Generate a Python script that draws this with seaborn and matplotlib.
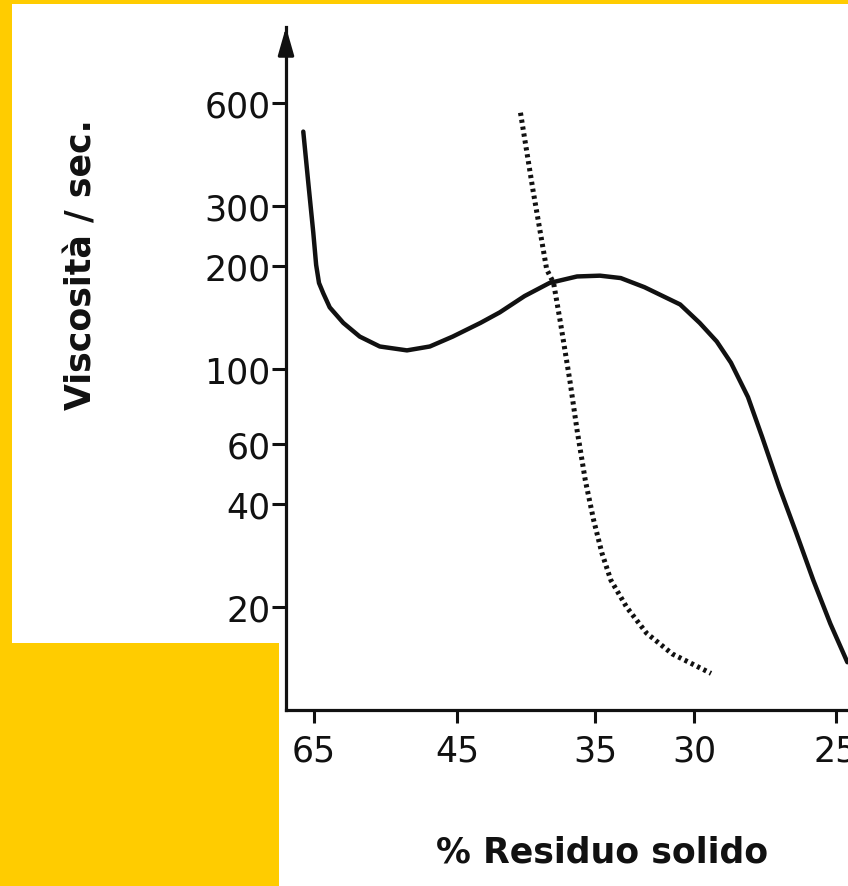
import numpy as np
import pandas as pd
import matplotlib
matplotlib.use("Agg")
import matplotlib.pyplot as plt
from matplotlib.patches import Rectangle
from matplotlib.ticker import NullLocator
import seaborn as sns

# ---------------- data ----------------
residue_ticks = [65, 45, 35, 30, 25]
visc_ticks = [20, 40, 60, 100, 200, 300, 600]

solid_residue = [66.5, 65.8, 65.1, 64.7, 64.3, 63.7, 62.8, 60.9, 58.6, 55.8, 52.0,
                 48.8, 45.6, 43.3, 41.9, 40.1, 38.3, 36.3, 34.75, 33.7, 32.5, 30.7,
                 29.8, 29.2, 28.7, 28.1, 27.6, 27.0, 26.4, 25.8, 25.2, 24.6]
solid_visc = [494, 350, 250, 201, 178, 166, 151, 136, 124, 116, 113,
              116, 124, 136, 146, 163, 178, 186, 187, 184, 173, 154,
              136, 120, 104, 82.5, 63, 45, 33, 24, 17.9, 13.8]

dotted_residue = [40.4, 39.5, 38.5, 38.0, 37.5, 36.8, 36.3, 35.7, 35.1, 34.65,
                  34.2, 33.4, 32.4, 31.1, 29.4]
dotted_visc = [561, 334, 195, 178, 136, 91, 66, 47, 36, 28.8,
               24.0, 20.0, 16.8, 14.6, 12.8]

# ---------------- style ----------------
sns.set_theme(style="ticks")
plt.rcParams["font.family"] = ["DejaVu Sans"]

YELLOW = "#FFCC00"
INK = "#111111"

W, H = 848, 887
fig = plt.figure(figsize=(W / 100, H / 100), dpi=100, facecolor=YELLOW)
# white sheet + yellow block bottom-left
fig.patches.append(Rectangle((12 / W, 0), 1, 1 - 5 / H, transform=fig.transFigure,
                             facecolor="white", edgecolor="none", zorder=-10))
fig.patches.append(Rectangle((0, 0), 279 / W, (H - 644) / H, transform=fig.transFigure,
                             facecolor=YELLOW, edgecolor="none", zorder=-9))

ax = fig.add_axes([286 / W, (H - 711) / H, (W - 286) / W, (711 - 28) / H])
ax.set_facecolor("none")

df_solid = pd.DataFrame({"residuo": solid_residue, "viscosita": solid_visc})
df_dot = pd.DataFrame({"residuo": dotted_residue, "viscosita": dotted_visc})

sns.lineplot(data=df_solid, x="residuo", y="viscosita", ax=ax, color=INK,
             linewidth=3.2, sort=False, estimator=None)
sns.lineplot(data=df_dot, x="residuo", y="viscosita", ax=ax, color=INK,
             linewidth=3.6, linestyle=(0, (0.65, 0.75)), sort=False, estimator=None)

# non-uniform x axis (piecewise linear, as drawn in the original)
anchor_v = np.array([20.0, 25, 30, 35, 45, 65, 75.0])
anchor_t = -np.array([978.0, 836, 694, 595, 457, 314, 242.5])  # increasing


def fwd(x):
    return np.interp(np.asarray(x, float), anchor_v, anchor_t)


def inv(t):
    return np.interp(np.asarray(t, float), anchor_t, anchor_v)


ax.set_xscale("function", functions=(fwd, inv))
ax.set_yscale("log")
ax.set_xlim(float(inv(-286)), float(inv(-848)))
ax.set_ylim(10, 1000)

ax.set_xticks(residue_ticks, labels=[str(v) for v in residue_ticks])
ax.set_yticks(visc_ticks, labels=[str(v) for v in visc_ticks])
ax.xaxis.set_minor_locator(NullLocator())
ax.yaxis.set_minor_locator(NullLocator())

for s in ("top", "right"):
    ax.spines[s].set_visible(False)
for s in ("left", "bottom"):
    ax.spines[s].set_linewidth(2.3)
    ax.spines[s].set_color(INK)

ax.tick_params(axis="y", which="major", direction="out", length=10, width=2.2,
               color=INK, labelsize=25, pad=1, labelcolor=INK)
ax.tick_params(axis="x", which="major", direction="out", length=9, width=2.2,
               color=INK, labelsize=25, pad=8, labelcolor=INK)

# arrow head on the y axis
ax.annotate("", xy=(0, 1.0), xytext=(0, 0.96), xycoords="axes fraction",
            arrowprops=dict(arrowstyle="-|>,head_length=1.4,head_width=0.4",
                            lw=2.3, color=INK, shrinkA=0, shrinkB=0,
                            mutation_scale=12),
            annotation_clip=False)

ax.set_xlabel("% Residuo solido", fontsize=25, fontweight="bold", color=INK)
ax.xaxis.set_label_coords((602 - 286) / (W - 286), (711 - 853) / (711 - 28))
ax.xaxis.label.set_va("center")
ax.xaxis.label.set_ha("center")

ax.set_ylabel("Viscosità / sec.", fontsize=25, fontweight="bold", color=INK)
ax.yaxis.set_label_coords((82 - 286) / (W - 286), (711 - 265) / (711 - 28))
ax.yaxis.label.set_va("center")
ax.yaxis.label.set_ha("center")

fig.savefig("out.png", dpi=100, facecolor=YELLOW)
